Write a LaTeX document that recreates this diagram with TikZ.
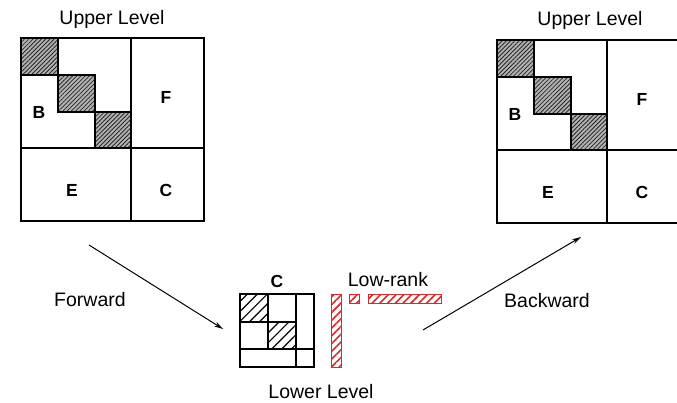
\documentclass[tikz,border=0pt]{standalone}
\usepackage{fontspec}
\setmainfont{Liberation Sans}
\usetikzlibrary{arrows.meta,patterns.meta}
\definecolor{hatchred}{RGB}{220,40,40}
\tikzset{
  grid/.style={line width=1.3pt},
  darkfill/.style={fill=gray!60},
  darkhatch/.style={pattern={Lines[angle=45,distance=3pt,line width=0.8pt]},pattern color=black!85},
  lighthatch/.style={pattern={Lines[angle=45,distance=7pt,line width=1.2pt]}},
  redhatch/.style={draw=hatchred,line width=1pt,pattern={Lines[angle=45,distance=5.5pt,line width=1.6pt]},pattern color=hatchred},
  caption/.style={font=\fontsize{19.5}{22}\selectfont},
  blocklabel/.style={font=\fontsize{17.5}{20}\selectfont\bfseries}
}
\begin{document}
\begin{tikzpicture}[x=1pt,y=-1pt]
	\useasboundingbox (0,0) rectangle (677,403);
	% upper level, before and after
	\foreach \ox/\oy/\nm in {21/38/left,497/40/right}{
		\begin{scope}[shift={(\ox,\oy)}]
			\fill[darkfill] (0,0) rectangle (37,37) (37,37) rectangle (74,74) (74,74) rectangle (110,110);
			\fill[darkhatch] (0,0) rectangle (37,37) (37,37) rectangle (74,74) (74,74) rectangle (110,110);
			\draw[grid] (0,0) rectangle (37,37);
			\draw[grid] (37,37) rectangle (74,74);
			\draw[grid] (74,74) rectangle (110,110);
			\draw[grid] (0,0) rectangle (183,183);
			\draw[grid] (110,0) -- (110,183);
			\draw[grid] (0,110) -- (183,110);
			\node[blocklabel] (b-\nm) at (18,74) {B};
			\node[blocklabel] (f-\nm) at (145,59) {F};
			\node[blocklabel] (e-\nm) at (51,152) {E};
			\node[blocklabel] (c-\nm) at (145,152) {C};
		\end{scope}
	}
	\node[caption] (upleft) at (112,19) {Upper Level};
	\node[caption] (upright) at (590,20) {Upper Level};
	% lower level
	\fill[lighthatch] (240,294) rectangle (268,322);
	\fill[lighthatch] (268,322) rectangle (296,349);
	\draw[grid] (240,294) rectangle (314,367);
	\draw[grid] (268,294) -- (268,349);
	\draw[grid] (296,294) -- (296,367);
	\draw[grid] (240,322) -- (296,322);
	\draw[grid] (240,349) -- (314,349);
	\node[blocklabel] (clow) at (277,281) {C};
	\node[caption] (lowlevel) at (321,392) {Lower Level};
	% low-rank factors
	\filldraw[redhatch] (331,294) rectangle (341,367);
	\filldraw[redhatch] (349,294) rectangle (359,303);
	\filldraw[redhatch] (368,294) rectangle (441,303);
	\node[caption] (lowrank) at (388,280) {Low-rank};
	% arrows
	\coordinate (fwdstart) at (89,245);
	\coordinate (fwdend) at (223,329);
	\coordinate (bwdstart) at (423,330);
	\coordinate (bwdend) at (581,237);
	\draw[line width=1pt,-{Stealth[length=9pt,width=5pt]}] (fwdstart) -- (fwdend);
	\draw[line width=1pt,-{Stealth[length=9pt,width=5pt]}] (bwdstart) -- (bwdend);
	\node[caption] (fwd) at (90,300) {Forward};
	\node[caption] (bwd) at (547,301) {Backward};
\end{tikzpicture}
\end{document}
